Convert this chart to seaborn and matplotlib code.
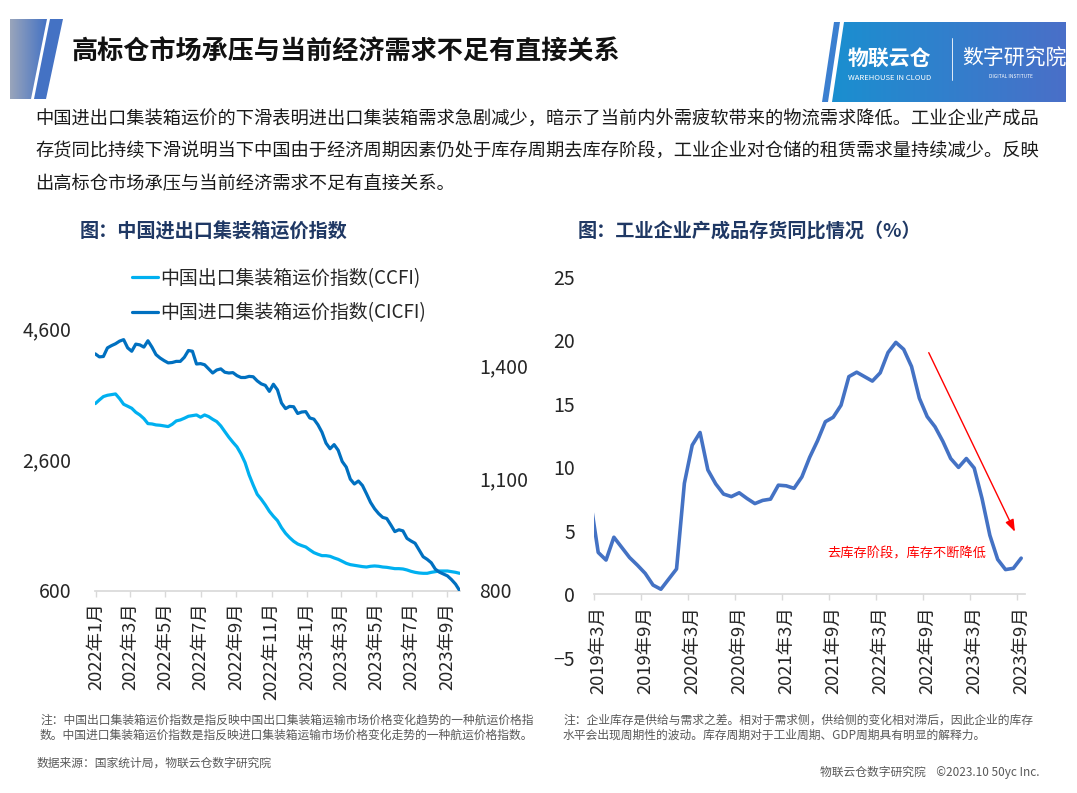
import numpy as np
import pandas as pd
import matplotlib.pyplot as plt
import seaborn as sns
from matplotlib.patches import Polygon
from matplotlib.lines import Line2D
from matplotlib.colors import LinearSegmentedColormap


# Data: weekly freight indices (from 2021-12-31)
week_start = "2021-12-31"
ccfi = [
    3448, 3504, 3555, 3575, 3585, 3595, 3524, 3438, 3408, 3377,
    3316, 3275, 3220, 3143, 3138, 3123, 3118, 3108, 3098, 3133,
    3184, 3199, 3225, 3255, 3265, 3275, 3240, 3275, 3250, 3209,
    3174, 3108, 3021, 2935, 2859, 2788, 2681, 2549, 2361, 2208,
    2066, 1990, 1904, 1807, 1731, 1665, 1558, 1472, 1406, 1350,
    1309, 1284, 1263, 1218, 1177, 1152, 1131, 1131, 1121, 1096,
    1075, 1045, 1014, 994, 984, 974, 964, 958, 969, 974,
    969, 958, 953, 943, 933, 933, 928, 913, 892, 877,
    867, 862, 862, 877, 887, 897, 897, 897, 887, 877,
    862,
]
cicfi = [
    1431, 1423, 1424, 1447, 1453, 1458, 1465, 1469, 1447, 1438,
    1457, 1455, 1449, 1466, 1449, 1429, 1420, 1413, 1407, 1408,
    1411, 1411, 1422, 1440, 1438, 1404, 1405, 1402, 1391, 1380,
    1388, 1391, 1382, 1380, 1381, 1373, 1368, 1368, 1371, 1370,
    1359, 1351, 1347, 1331, 1350, 1335, 1300, 1285, 1291, 1290,
    1272, 1276, 1277, 1260, 1257, 1242, 1222, 1193, 1178, 1189,
    1174, 1144, 1129, 1097, 1084, 1092, 1080, 1058, 1035, 1018,
    1005, 995, 992, 975, 957, 962, 959, 939, 932, 926,
    908, 890, 883, 874, 857, 849, 844, 839, 829, 817,
    800,
]

# Data: monthly finished-goods inventory YoY (%), from 2019-02
inv_start = "2019-02"
inv_yoy = [
    7.4, 3.3, 2.7, 4.5, 3.7, 2.9, 2.3, 1.65, 0.73, 0.4,
    1.2, 2.0, 8.75, 11.75, 12.75, 9.8, 8.7, 7.9, 7.7, 8.0,
    7.55, 7.15, 7.4, 7.5, 8.6, 8.55, 8.35, 9.25, 10.8, 12.1,
    13.6, 13.95, 14.9, 17.15, 17.5, 17.15, 16.8, 17.45, 19.05, 19.85,
    19.3, 17.95, 15.45, 14.0, 13.2, 12.05, 10.7, 10.0, 10.7, 9.95,
    7.55, 4.65, 2.75, 1.95, 2.05, 2.85,
]

left_yticks = [600, 2600, 4600]
right_yticks = [800, 1100, 1400]
inv_yticks = [-5, 0, 5, 10, 15, 20, 25]

weeks = pd.date_range(week_start, periods=len(ccfi), freq="7D")
freight = pd.DataFrame({"date": weeks, "CCFI": ccfi, "CICFI": cicfi})

months = pd.period_range(inv_start, periods=len(inv_yoy), freq="M")
inv = pd.DataFrame({"idx": np.arange(len(inv_yoy)) - 1, "yoy": inv_yoy})


# Style
sns.set_theme(style="white")
plt.rcParams["font.family"] = ["Noto Sans CJK SC", "DejaVu Sans"]

W, H = 1077, 793
fig = plt.figure(figsize=(W / 100, H / 100), dpi=100)


def box(x0, y0, x1, y1):
    return [x0 / W, 1 - y1 / H, (x1 - x0) / W, (y1 - y0) / H]


# Overlay in pixel coordinates for header / notes
ax0 = fig.add_axes([0, 0, 1, 1], zorder=-1)
ax0.axis("off")


def gradient_poly(verts, c0, c1):
    xs = [v[0] for v in verts]
    ys = [v[1] for v in verts]
    cmap = LinearSegmentedColormap.from_list("g", [c0, c1])
    im = ax0.imshow(
        np.linspace(0, 1, 256).reshape(1, -1),
        cmap=cmap,
        extent=(min(xs), max(xs), max(ys), min(ys)),
        aspect="auto",
    )
    poly = Polygon(verts, closed=True, facecolor="none", edgecolor="none")
    ax0.add_patch(poly)
    im.set_clip_path(poly)


# Header bar
gradient_poly([(10, 19), (47, 19), (31, 99), (10, 99)], "#9aa5bb", "#4472C4")
ax0.add_patch(Polygon([(50, 19), (63, 19), (46, 99), (34, 99)],
                      closed=True, color="#4472C4", lw=0))

ax0.text(72, 52, "高标仓市场承压与当前经济需求不足有直接关系",
         fontsize=18.8, fontweight="bold", color="#111111", va="center")

# Logo
ax0.add_patch(Polygon([(834, 22), (840, 22), (828, 102), (822, 102)],
                      closed=True, color="#3b7fd0", lw=0))
gradient_poly([(844, 22), (1066, 22), (1066, 102), (832, 102)],
              "#1a8fd0", "#4a6fc8")
ax0.text(848, 59, "物联云仓", fontsize=15, fontweight="bold",
         color="white", va="center")
ax0.text(848, 78, "WAREHOUSE IN CLOUD", fontsize=5.5,
         color="white", va="center")
ax0.plot([952, 952], [38, 80], color="white", lw=0.6)
ax0.text(962, 59, "数字研究院", fontsize=15, color="white", va="center")
ax0.text(1011, 76, "DIGITAL INSTITUTE", fontsize=3.5,
         color="white", va="center", ha="center")

# Paragraph
para = [
    "中国进出口集装箱运价的下滑表明进出口集装箱需求急剧减少，暗示了当前内外需疲软带来的物流需求降低。工业企业产成品",
    "存货同比持续下滑说明当下中国由于经济周期因素仍处于库存周期去库存阶段，工业企业对仓储的租赁需求量持续减少。反映",
    "出高标仓市场承压与当前经济需求不足有直接关系。",
]
for i, line in enumerate(para):
    ax0.text(35, 120 + 32 * i, line, fontsize=13.15,
             color="#1a1a1a", va="center")

# Chart titles
ax0.text(80, 232, "图：中国进出口集装箱运价指数", fontsize=13.8,
         fontweight="bold", color="#1F3864", va="center")
ax0.text(578, 232, "图：工业企业产成品存货同比情况（%）", fontsize=13.8,
         fontweight="bold", color="#1F3864", va="center")

# Notes
note_c = "#595959"
note_fs = 8.5
ax0.text(40, 720, "注：中国出口集装箱运价指数是指反映中国出口集装箱运输市场价格变化趋势的一种航运价格指",
         fontsize=note_fs, color=note_c, va="center")
ax0.text(40, 735, "数。中国进口集装箱运价指数是指反映进口集装箱运输市场价格变化走势的一种航运价格指数。",
         fontsize=note_fs, color=note_c, va="center")
ax0.text(563, 720, "注：企业库存是供给与需求之差。相对于需求侧，供给侧的变化相对滞后，因此企业的库存",
         fontsize=note_fs, color=note_c, va="center")
ax0.text(563, 735, "水平会出现周期性的波动。库存周期对于工业周期、GDP周期具有明显的解释力。",
         fontsize=note_fs, color=note_c, va="center")
ax0.text(37, 763, "数据来源：国家统计局，物联云仓数字研究院",
         fontsize=note_fs, color=note_c, va="center")
ax0.text(1040, 772, "物联云仓数字研究院    ©2023.10 50yc Inc.",
         fontsize=note_fs, color=note_c, va="center", ha="right")

ax0.set_xlim(0, W)
ax0.set_ylim(H, 0)


# Left chart: freight indices
lbl_c = "#262626"
axis_c = "#d9d9d9"
tick_fs = 14
xlab_fs = 13.3

ax1 = fig.add_axes(box(95.3, 328, 459.6, 590.5))
sns.lineplot(data=freight, x="date", y="CCFI", ax=ax1,
             color="#00B0F0", lw=2.3)
ax2 = ax1.twinx()
sns.lineplot(data=freight, x="date", y="CICFI", ax=ax2,
             color="#0070C0", lw=2.3)

ax1.set_xlim(weeks[0], weeks[-1])
ax1.set_ylim(600, 4600)
ax2.set_ylim(800, 1500)
ax1.set_yticks(left_yticks)
ax1.set_yticklabels([f"{v:,}" for v in left_yticks])
ax2.set_yticks(right_yticks)
ax2.set_yticklabels([f"{v:,}" for v in right_yticks])

xt = pd.date_range("2022-01-01", "2023-09-01", freq="2MS")
ax1.set_xticks(xt)
ax1.set_xticklabels([f"{d.year}年{d.month}月" for d in xt])

for a in (ax1, ax2):
    a.set_xlabel("")
    a.set_ylabel("")
    for s in a.spines.values():
        s.set_visible(False)
ax1.spines["bottom"].set_visible(True)
ax1.spines["bottom"].set_color(axis_c)
ax1.tick_params(axis="y", length=0, pad=17, labelsize=tick_fs,
                labelcolor=lbl_c)
ax2.tick_params(axis="y", length=0, pad=14, labelsize=tick_fs,
                labelcolor=lbl_c)
ax1.tick_params(axis="x", bottom=True, length=4.3, width=1,
                color=axis_c, pad=4, labelsize=xlab_fs,
                labelcolor=lbl_c, labelrotation=90)

handles = [
    Line2D([], [], color="#00B0F0", lw=2.3),
    Line2D([], [], color="#0070C0", lw=2.3),
]
fig.legend(
    handles,
    ["中国出口集装箱运价指数(CCFI)", "中国进口集装箱运价指数(CICFI)"],
    loc="upper left",
    bbox_to_anchor=(132 / W, 1 - 268 / H),
    frameon=False,
    fontsize=13.6,
    handlelength=1.35,
    handletextpad=0.12,
    labelspacing=0.72,
    borderpad=0,
    borderaxespad=0,
    labelcolor=lbl_c,
)


# Right chart: inventory YoY
ax3 = fig.add_axes(box(594.3, 277, 1025.1, 657.8))
sns.lineplot(data=inv, x="idx", y="yoy", ax=ax3,
             color="#4472C4", lw=2.6)
for s in ax3.spines.values():
    s.set_visible(False)
ax3.spines["bottom"].set_visible(True)
ax3.spines["bottom"].set_position(("data", 0))
ax3.spines["bottom"].set_color(axis_c)

ax3.set_xlim(-0.5, len(inv_yoy) - 1.5)
ax3.set_ylim(-5, 25)
ax3.set_yticks(inv_yticks)
ax3.set_xlabel("")
ax3.set_ylabel("")

lab_idx = np.arange(0, len(inv_yoy) - 1, 6)
ax3.set_xticks(lab_idx)
ax3.set_xticklabels([f"{months[i + 1].year}年{months[i + 1].month}月"
                     for i in lab_idx])
ax3.set_xticks(lab_idx - 0.5, minor=True)

ax3.tick_params(axis="y", length=0, pad=14, labelsize=tick_fs,
                labelcolor=lbl_c)
ax3.tick_params(axis="x", which="major", length=0, pad=8.3,
                labelsize=xlab_fs, labelcolor=lbl_c, labelrotation=90)
ax3.tick_params(axis="x", which="minor", bottom=True, length=4.3,
                width=1, color=axis_c)

ax3.annotate(
    "",
    xy=(53.2, 4.93),
    xytext=(42.2, 19.04),
    arrowprops=dict(arrowstyle="-|>,head_length=0.6,head_width=0.22",
                    color="red", lw=1.0, shrinkA=0, shrinkB=0),
)
ax3.text(29.3, 3.2, "去库存阶段，库存不断降低", color="red",
         fontsize=9.5, va="center")


fig.savefig("out.png", dpi=100, facecolor="white")
